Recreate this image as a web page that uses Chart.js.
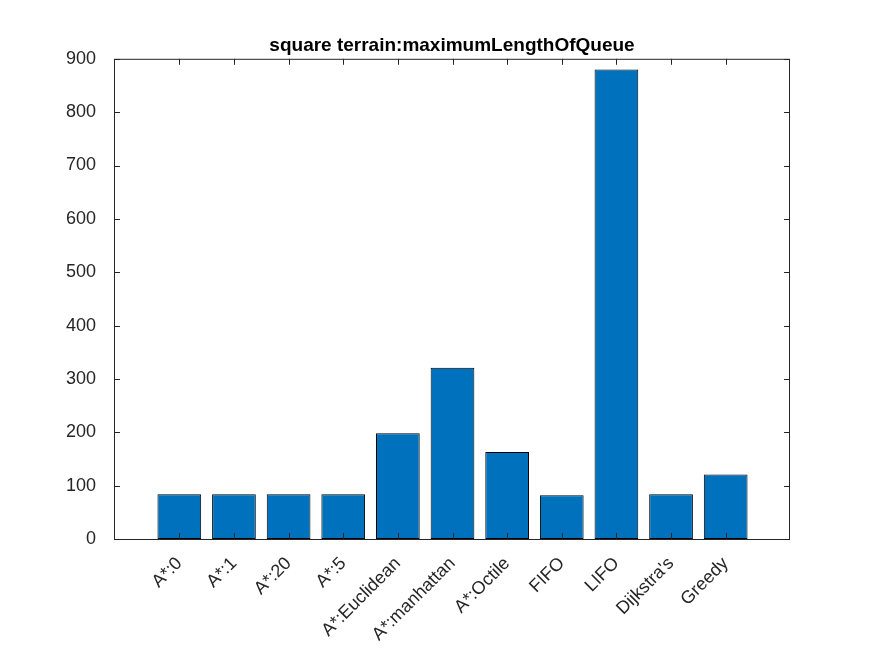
<!DOCTYPE html>
<html><head><script src="https://cdn.jsdelivr.net/npm/chart.js"></script>
<style>body{margin:0;background:#fff}</style></head>
<body><canvas id="c" width="875" height="656" style="width:875px;height:656px"></canvas>
<script>
const categories=["A*:0","A*:1","A*:20","A*:5","A*:Euclidean","A*:manhattan","A*:Octile","FIFO","LIFO","Dijkstra's","Greedy"];
const values=[84,84,84,84,198,321,163,82,880,84,121];
const yTicks=[0,100,200,300,400,500,600,700,800,900];
const titleText="square terrain:maximumLengthOfQueue";
const font="'Liberation Sans', Arial, sans-serif";
const BL=114,BR=790;
const boxPlugin={id:'box',afterDraw(ch){
 const {ctx,chartArea:a,scales:{x,y}}=ch;
 ctx.save();ctx.strokeStyle='#262626';ctx.lineWidth=1;
 ctx.strokeRect(BL+0.5,a.top+0.5,BR-BL-1,a.bottom-a.top);
 ctx.beginPath();
 yTicks.forEach(v=>{const p=Math.round(y.getPixelForValue(v))+0.5;ctx.moveTo(BL,p);ctx.lineTo(BL+6,p);ctx.moveTo(BR,p);ctx.lineTo(BR-6,p);});
 categories.forEach((c,i)=>{const p=Math.round(x.getPixelForValue(i))+0.5;ctx.moveTo(p,a.bottom);ctx.lineTo(p,a.bottom-6);ctx.moveTo(p,a.top);ctx.lineTo(p,a.top+6);});
 ctx.stroke();
 ctx.fillStyle='#000';ctx.font='bold 19px '+font;ctx.textAlign='center';ctx.textBaseline='bottom';
 ctx.fillText(titleText,(BL+BR)/2,a.top-4);
 ctx.restore();}};
new Chart(document.getElementById('c'),{type:'bar',
 data:{labels:categories,datasets:[{data:values,backgroundColor:'#0072BD',borderColor:'#000',borderWidth:1,borderSkipped:false,categoryPercentage:1,barPercentage:0.8}]},
 options:{responsive:false,animation:false,devicePixelRatio:1,
  layout:{padding:{top:49,right:122,left:0,bottom:0}},
  plugins:{legend:{display:false},tooltip:{enabled:false}},
  scales:{
   x:{grid:{display:false},border:{display:false},afterFit(s){s.height=117;},
      ticks:{color:'#262626',font:{family:font,size:18},maxRotation:45,minRotation:45,padding:6}},
   y:{min:0,max:900,grid:{display:false},border:{display:false},afterFit(s){s.width=152;},
      afterBuildTicks(s){s.ticks=yTicks.map(v=>({value:v}));},
      ticks:{color:'#262626',font:{family:font,size:18},padding:48}}}},
 plugins:[boxPlugin]});
</script></body></html>
